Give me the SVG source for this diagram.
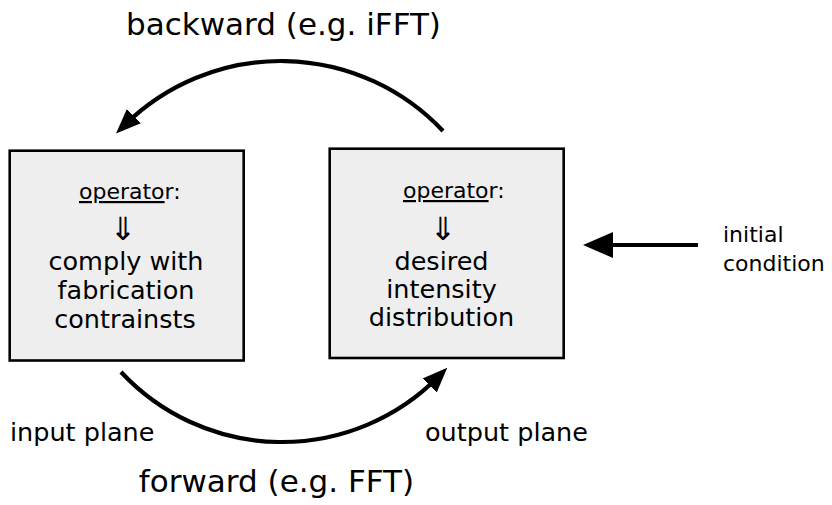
<svg xmlns="http://www.w3.org/2000/svg" width="832" height="505" viewBox="0 0 832 505">
<style>
text { font-family: "DejaVu Sans", Verdana, sans-serif; fill: #000; }
.box { fill: #eeeeee; stroke: #000; stroke-width: 2.6; }
.op { font-size: 22px; }
.dbl { font-size: 32px; text-anchor: middle; }
.body { font-size: 25.5px; text-anchor: middle; }
.title { font-size: 31px; text-anchor: middle; }
.lbl { font-size: 22px; }
.plane { font-size: 25.5px; }
.conn { fill: none; stroke: #000; stroke-width: 4.2; }
</style>
<defs>
<marker id="ah" markerUnits="userSpaceOnUse" markerWidth="30" markerHeight="24" viewBox="0 -12 30 24" refX="12" refY="0" orient="auto">
<path d="M0,-10 L25,0 L0,10 Z" fill="#000"/>
</marker>
<marker id="ah2" markerUnits="userSpaceOnUse" markerWidth="34" markerHeight="30" viewBox="0 -15 34 30" refX="4" refY="0" orient="auto">
<path d="M0,-13 L30,0 L0,13 Z" fill="#000"/>
</marker>
</defs>
<g id="title-backward"><text class="title" x="283.5" y="35">backward (e.g. iFFT)</text></g>
<g id="title-forward"><text class="title" x="276.5" y="492">forward (e.g. FFT)</text></g>
<g id="input-plane">
<rect class="box" x="9.7" y="150.7" width="234" height="209.8"/>
<text class="op" x="79" y="199"><tspan text-decoration="underline">operato</tspan>r:</text>
<text class="dbl" x="123" y="239.5">⇓</text>
<text class="body" x="126" y="269.5">comply with</text>
<text class="body" x="126" y="299">fabrication</text>
<text class="body" x="125" y="328">contrainsts</text>
</g>
<g id="output-plane">
<rect class="box" x="329.7" y="148.7" width="234" height="209.3"/>
<text class="op" x="403" y="198"><tspan text-decoration="underline">operato</tspan>r:</text>
<text class="dbl" x="443" y="239.5">⇓</text>
<text class="body" x="441.5" y="270">desired</text>
<text class="body" x="441.5" y="298">intensity</text>
<text class="body" x="441.5" y="326">distribution</text>
</g>
<g id="label-input"><text class="plane" x="10" y="441">input plane</text></g>
<g id="label-output"><text class="plane" x="425" y="441">output plane</text></g>
<g id="initial-condition">
<text class="lbl" x="723" y="242">initial</text>
<text class="lbl" x="723" y="271">condition</text>
</g>
<g id="connectors">
<path class="conn" d="M443,131 A222.5,222.5 0 0 0 125.3,124.5" marker-end="url(#ah)"/>
<path class="conn" d="M121,372 A220,220 0 0 0 438.1,377" marker-end="url(#ah)"/>
<path class="conn" d="M698,245 L609,245" marker-end="url(#ah2)"/>
</g>
</svg>
